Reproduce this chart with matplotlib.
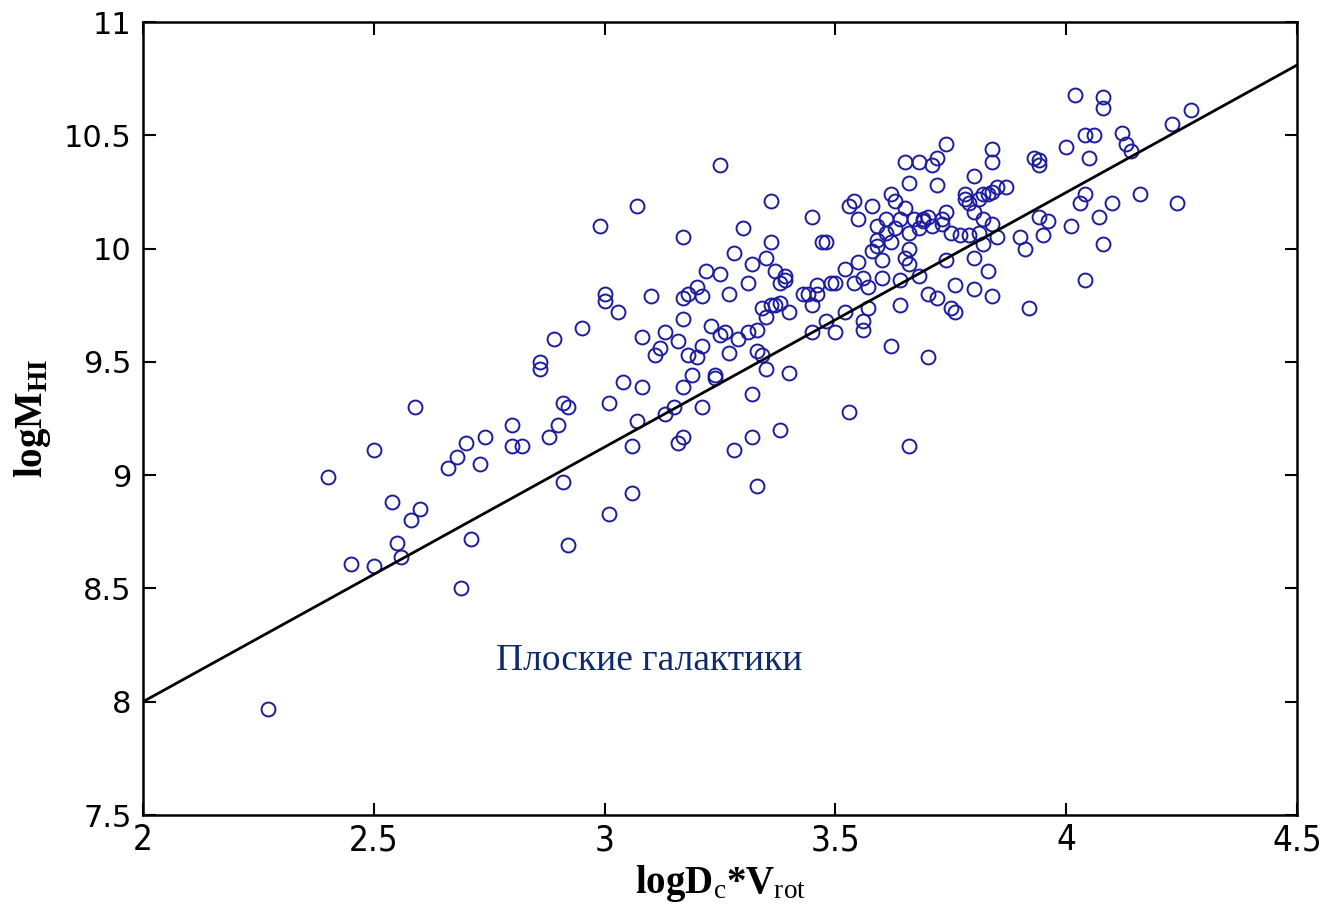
import matplotlib
matplotlib.use("Agg")
import matplotlib.pyplot as plt
import numpy as np

# Galaxy sample: log(Dc*Vrot) vs log M_HI
log_dv = [
    2.27, 2.40, 2.45, 2.50, 2.50, 2.54, 2.55, 2.56, 2.58, 2.59, 2.60, 2.66, 2.68, 2.69,
    2.70, 2.71, 2.73, 2.74, 2.80, 2.80, 2.82, 2.86, 2.86, 2.88, 2.89, 2.90, 2.91, 2.91,
    2.92, 2.92, 2.95, 2.99, 3.00, 3.00, 3.01, 3.01, 3.03, 3.04, 3.06, 3.06, 3.07, 3.07,
    3.08, 3.08, 3.10, 3.11, 3.12, 3.13, 3.13, 3.15, 3.16, 3.16, 3.17, 3.17, 3.17, 3.17,
    3.17, 3.18, 3.18, 3.19, 3.20, 3.20, 3.21, 3.21, 3.21, 3.22, 3.23, 3.24, 3.24, 3.25,
    3.25, 3.25, 3.26, 3.27, 3.27, 3.28, 3.28, 3.29, 3.30, 3.31, 3.31, 3.32, 3.32, 3.32,
    3.33, 3.33, 3.33, 3.34, 3.34, 3.35, 3.35, 3.35, 3.36, 3.36, 3.36, 3.37, 3.37, 3.38,
    3.38, 3.39, 3.39, 3.38, 3.40, 3.40, 3.43, 3.44, 3.45, 3.45, 3.45, 3.46, 3.46, 3.47,
    3.48, 3.48, 3.49, 3.50, 3.50, 3.52, 3.52, 3.53, 3.53, 3.54, 3.54, 3.55, 3.55, 3.56,
    3.56, 3.56, 3.57, 3.57, 3.58, 3.58, 3.59, 3.59, 3.59, 3.60, 3.60, 3.61, 3.61, 3.62,
    3.62, 3.62, 3.63, 3.63, 3.64, 3.64, 3.64, 3.65, 3.65, 3.65, 3.66, 3.66, 3.66, 3.66,
    3.66, 3.67, 3.68, 3.68, 3.68, 3.69, 3.69, 3.70, 3.70, 3.70, 3.71, 3.71, 3.72, 3.72,
    3.72, 3.73, 3.73, 3.74, 3.74, 3.74, 3.75, 3.75, 3.76, 3.76, 3.77, 3.78, 3.78, 3.79,
    3.79, 3.80, 3.80, 3.80, 3.80, 3.81, 3.81, 3.82, 3.82, 3.82, 3.83, 3.83, 3.84, 3.84,
    3.84, 3.84, 3.84, 3.85, 3.85, 3.87, 3.90, 3.91, 3.92, 3.93, 3.94, 3.94, 3.94, 3.95,
    3.96, 4.00, 4.01, 4.02, 4.03, 4.04, 4.04, 4.04, 4.05, 4.06, 4.07, 4.08, 4.08, 4.08,
    4.10, 4.12, 4.13, 4.14, 4.16, 4.23, 4.24, 4.27,
]
log_mhi = [
    7.97, 8.99, 8.61, 9.11, 8.60, 8.88, 8.70, 8.64, 8.80, 9.30, 8.85, 9.03, 9.08, 8.50,
    9.14, 8.72, 9.05, 9.17, 9.22, 9.13, 9.13, 9.50, 9.47, 9.17, 9.60, 9.22, 9.32, 8.97,
    9.30, 8.69, 9.65, 10.10, 9.80, 9.77, 9.32, 8.83, 9.72, 9.41, 9.13, 8.92, 10.19, 9.24,
    9.61, 9.39, 9.79, 9.53, 9.56, 9.63, 9.27, 9.30, 9.14, 9.59, 9.39, 9.17, 10.05, 9.78,
    9.69, 9.53, 9.80, 9.44, 9.83, 9.52, 9.57, 9.30, 9.79, 9.90, 9.66, 9.44, 9.43, 9.62,
    10.37, 9.89, 9.63, 9.80, 9.54, 9.11, 9.98, 9.60, 10.09, 9.85, 9.63, 9.93, 9.17, 9.36,
    9.64, 9.55, 8.95, 9.53, 9.74, 9.96, 9.47, 9.70, 9.75, 10.03, 10.21, 9.90, 9.75, 9.85,
    9.76, 9.86, 9.88, 9.20, 9.45, 9.72, 9.80, 9.80, 9.75, 10.14, 9.63, 9.80, 9.84, 10.03,
    10.03, 9.68, 9.85, 9.85, 9.63, 9.91, 9.72, 10.19, 9.28, 10.21, 9.85, 9.94, 10.13, 9.68,
    9.64, 9.87, 9.83, 9.74, 9.99, 10.19, 10.10, 10.04, 10.01, 9.95, 9.87, 10.07, 10.13, 10.03,
    10.24, 9.57, 10.21, 10.09, 10.13, 9.75, 9.86, 10.38, 10.18, 9.96, 10.29, 10.07, 10.00, 9.93,
    9.13, 10.13, 10.09, 9.88, 10.38, 10.13, 10.12, 10.14, 9.80, 9.52, 10.37, 10.10, 10.40, 10.28,
    9.78, 10.13, 10.11, 10.46, 10.16, 9.95, 10.07, 9.74, 9.72, 9.84, 10.06, 10.22, 10.24, 10.06,
    10.20, 10.32, 10.16, 9.96, 9.82, 10.07, 10.22, 10.24, 10.13, 10.02, 9.90, 10.24, 10.38, 10.44,
    10.25, 10.11, 9.79, 10.27, 10.05, 10.27, 10.05, 10.00, 9.74, 10.40, 10.37, 10.39, 10.14, 10.06,
    10.12, 10.45, 10.10, 10.68, 10.20, 10.50, 10.24, 9.86, 10.40, 10.50, 10.14, 10.67, 10.62, 10.02,
    10.20, 10.51, 10.46, 10.43, 10.24, 10.55, 10.20, 10.61,
]

# Linear regression line: logM_HI = fit_intercept + fit_slope * logDc*Vrot
fit_intercept = 5.752
fit_slope = 1.124
fit_range = [2.0, 4.5]

x_ticks = [2, 2.5, 3, 3.5, 4, 4.5]
x_ticklabels = ["2", "2.5", "3", "3.5", "4", "4.5"]
y_ticks = [7.5, 8, 8.5, 9, 9.5, 10, 10.5, 11]
y_ticklabels = ["7.5", "8", "8.5", "9", "9.5", "10", "10.5", "11"]

plt.rcParams["mathtext.fontset"] = "custom"
plt.rcParams["mathtext.rm"] = "Liberation Serif"
plt.rcParams["mathtext.bf"] = "Liberation Serif:bold"
plt.rcParams["mathtext.it"] = "Liberation Serif:italic"

fig = plt.figure(figsize=(13.25, 9.14), dpi=100)
ax = fig.add_axes([0.1079, 0.1083, 0.8710, 0.8676])

ax.plot(log_dv, log_mhi, linestyle="none", marker="o", markersize=10,
        markerfacecolor="none", markeredgecolor="#1c1c9e", markeredgewidth=1.4)

fx = np.array(fit_range)
ax.plot(fx, fit_intercept + fit_slope * fx, color="black", linewidth=2.0)

ax.set_xlim(2, 4.5)
ax.set_ylim(7.5, 11)
ax.set_xticks(x_ticks)
ax.set_xticklabels(x_ticklabels,
                   fontfamily=["Liberation Sans Narrow", "DejaVu Sans"],
                   fontstretch="condensed", fontsize=25)
ax.set_yticks(y_ticks)
ax.set_yticklabels(y_ticklabels, fontfamily="DejaVu Sans", fontsize=22)

ax.tick_params(direction="in", length=9, width=1.5, top=True, right=True,
               color="black")
ax.tick_params(axis="x", pad=6)
ax.tick_params(axis="y", pad=8)
for sp in ax.spines.values():
    sp.set_linewidth(1.8)

ax.set_xlabel(r"$\mathbf{logD}_{\mathrm{c}}\mathbf{{*}V}_{\mathrm{rot}}$",
              fontsize=28, labelpad=4)
ax.set_ylabel(r"$\mathbf{logM}_{\mathbf{HI}}$", fontsize=28, labelpad=8)

ax.text(2.765, 8.18, "Плоские галактики", fontfamily="Liberation Serif",
        fontsize=27, color="#0f2a6b", ha="left", va="center")

fig.savefig("out.png", dpi=100, facecolor="white")
